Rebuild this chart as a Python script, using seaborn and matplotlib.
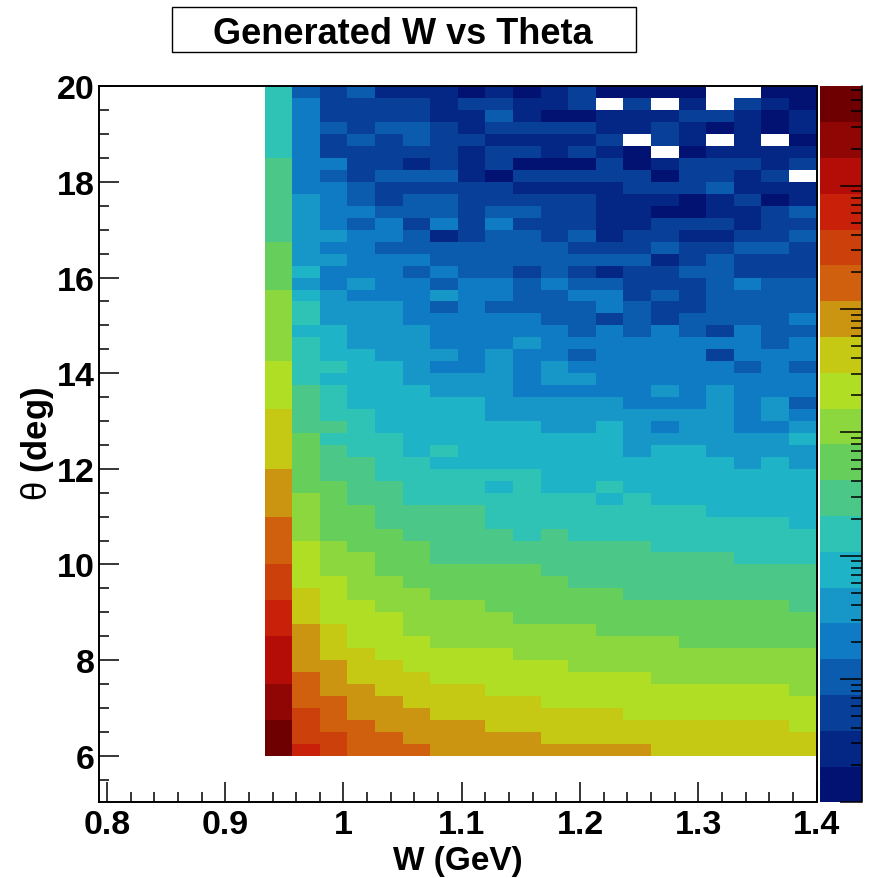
import numpy as np
import pandas as pd
import matplotlib
matplotlib.use("Agg")
import matplotlib.pyplot as plt
import seaborn as sns
from matplotlib.colors import LogNorm, ListedColormap
from matplotlib.patches import Rectangle
from matplotlib.ticker import LogLocator, NullFormatter

# ---------------- data ----------------
# histogram binning
w_bin_width = 0.7 / 30          # GeV
w_first_edge = 0.7 + 10 * w_bin_width
n_w_bins = 20
theta_top_edge = 20.0           # deg
theta_bin_width = 0.25
n_theta_bins = 56

# z axis (log) and its 20 colour levels
z_min = 1.0
z_max = 6.4e5
n_levels = 20
level_codes = "0123456789abcdefghij"   # '.' = empty bin

# colour level of every bin, top row (theta 19.75-20) first, W increasing left->right
level_rows = [
    "7323111010120000..00",
    "742222122112.2.1.210",
    "74222211310011122101",
    "74323321222211210101",
    "7423232211112.21.1.0",
    "74222221221210.01111",
    "84422121200020122212",
    "8432333102222202212.",
    "84432222211112223111",
    "85432332222211101201",
    "85443332332211001123",
    "85434242422211222122",
    "85544312332312211223",
    "95443333333222322332",
    "95544433333333123222",
    "96444343323212233222",
    "95454434434332223433",
    "a6544454433442323333",
    "a7555434333343223333",
    "a7555444443323233334",
    "a6655544444343432433",
    "a7655544454444444434",
    "a7665554544344442444",
    "b7766544545444444343",
    "b7666555545544444444",
    "b8766655544444545444",
    "b8766666555554445453",
    "c8776666555555555454",
    "c8876666665565455445",
    "c9777666666665555556",
    "c9877676666665665555",
    "c9887766666666666565",
    "d9887777776666666666",
    "d9988777676676666666",
    "da988777777767666666",
    "da998888777777776666",
    "ea998888777777777776",
    "ea999888878777777777",
    "eba99988888888777777",
    "ebaa9988888888888777",
    "fbaa9999998888888888",
    "fbbaa999999888888888",
    "fcbaaa99999998888888",
    "gcbbaaaa999999999998",
    "gcbbbaaaa99999999999",
    "gdcbbaaaaaaa99999999",
    "hdcbbbaaaaaaaaa99999",
    "hdccbbbbbaaaaaaaaaaa",
    "hddccbbbbbbaaaaaaaaa",
    "hedcccbbbbbbbbaaaaaa",
    "ieddccccbbbbbbbbbbba",
    "ieeddcccccbbbbbbbbbb",
    "ifedddcccccccbbbbbbb",
    "jfeeddddcccccccccccb",
    "jffeedddddcccccccccc",
    "jgfeeeddddddddcccccc",
]

# axes
x_range = (0.7 + 4 * w_bin_width, 1.4)
y_range = (5.025, 20.0)
x_ticks = [0.8, 0.9, 1.0, 1.1, 1.2, 1.3, 1.4]
x_tick_labels = ["0.8", "0.9", "1", "1.1", "1.2", "1.3", "1.4"]
y_ticks = [6, 8, 10, 12, 14, 16, 18, 20]
y_tick_labels = ["6", "8", "10", "12", "14", "16", "18", "20"]
title_text = "Generated W vs Theta"
x_title = "W (GeV)"
y_title = r"$\mathrm{\theta}\ \mathbf{(deg)}$"

# ROOT kRainBow palette stops
rainbow_r = [0, 5, 15, 35, 102, 196, 208, 199, 110]
rainbow_g = [0, 48, 124, 192, 206, 226, 97, 16, 0]
rainbow_b = [99, 142, 198, 201, 90, 22, 13, 8, 2]

# ---------------- build table ----------------
assert len(level_rows) == n_theta_bins and all(len(r) == n_w_bins for r in level_rows)
log_step = np.log10(z_max / z_min) / n_levels
counts = np.full((n_theta_bins, n_w_bins), np.nan)
for i, row in enumerate(level_rows):
    for j, ch in enumerate(row):
        if ch != ".":
            k = level_codes.index(ch)
            counts[i, j] = z_min * 10 ** ((k + 0.5) * log_step)

w_centres = w_first_edge + (np.arange(n_w_bins) + 0.5) * w_bin_width
theta_centres = theta_top_edge - (np.arange(n_theta_bins) + 0.5) * theta_bin_width
df = pd.DataFrame(counts, index=np.round(theta_centres, 3), columns=np.round(w_centres, 4))

# palette: 20 contour colours picked from a 255 colour gradient as ROOT does
stops = np.linspace(0, 1, len(rainbow_r))
idx = np.floor((np.arange(n_levels) + 0.99) * 255 / n_levels)
t = idx / 254.0
cols = np.stack([np.interp(t, stops, rainbow_r),
                 np.interp(t, stops, rainbow_g),
                 np.interp(t, stops, rainbow_b)], axis=1) / 255.0
cmap = ListedColormap(cols)

# ---------------- plot ----------------
sns.set_style("white")
plt.rcParams["font.family"] = ["Liberation Sans", "DejaVu Sans"]
plt.rcParams["font.weight"] = "bold"
plt.rcParams["text.color"] = "black"
plt.rcParams["xtick.color"] = "black"
plt.rcParams["ytick.color"] = "black"
plt.rcParams["axes.axisbelow"] = False
plt.rcParams["mathtext.fontset"] = "custom"
plt.rcParams["mathtext.rm"] = "Liberation Sans:weight=normal"
plt.rcParams["mathtext.it"] = "Liberation Sans:italic:weight=normal"
plt.rcParams["mathtext.bf"] = "Liberation Sans:weight=bold"

W, H = 874, 879
fig = plt.figure(figsize=(W / 100, H / 100), dpi=100)
fig.patch.set_facecolor("white")
ax_l, ax_r, ax_t, ax_b = 99, 816.7, 87.3, 803.3
ax = fig.add_axes([ax_l / W, 1 - ax_b / H, (ax_r - ax_l) / W, (ax_b - ax_t) / H])
cax = fig.add_axes([820 / W, 1 - ax_b / H, (861.7 - 820) / W, (ax_b - ax_t) / H])

sns.heatmap(df, ax=ax, cbar_ax=cax, cmap=cmap, norm=LogNorm(vmin=z_min, vmax=z_max),
            xticklabels=False, yticklabels=False, linewidths=0)


def w_to_col(w):
    return (np.asarray(w) - w_first_edge) / w_bin_width


def th_to_row(th):
    return (theta_top_edge - np.asarray(th)) / theta_bin_width


ax.set_xlim(w_to_col(x_range[0]), w_to_col(x_range[1]))
ax.set_ylim(th_to_row(y_range[0]), th_to_row(y_range[1]))

ax.set_xticks(w_to_col(x_ticks))
ax.set_xticklabels(x_tick_labels)
x_minor = np.arange(0.80, 1.4001, 0.02)
ax.set_xticks(w_to_col(x_minor), minor=True)
ax.set_yticks(th_to_row(y_ticks))
ax.set_yticklabels(y_tick_labels, rotation=0)
y_minor = np.arange(5.5, 20.001, 0.5)
ax.set_yticks(th_to_row(y_minor), minor=True)

ax.tick_params(which="both", direction="in", top=False, right=False,
               bottom=True, left=True, color="black", width=1.1)
ax.tick_params(which="major", length=14.5)
ax.tick_params(which="minor", length=7.2)
ax.tick_params(axis="x", which="major", labelsize=24.5, pad=5, labelcolor="black")
ax.tick_params(axis="y", which="major", labelsize=24.5, pad=3, labelcolor="black")
for lab in ax.get_xticklabels() + ax.get_yticklabels():
    lab.set_fontweight("bold")

for s in ax.spines.values():
    s.set_visible(True)
    s.set_color("black")
    s.set_linewidth(1.4)

# colour bar (log axis, ticks only)
cb = ax.collections[0].colorbar
cb.outline.set_linewidth(0)
cb.ax.set_axisbelow(False)
cb.locator = LogLocator(base=10, numticks=20)
cb.formatter = NullFormatter()
cb.ax.yaxis.set_minor_locator(LogLocator(base=10, subs=np.arange(2, 10), numticks=20))
cb.ax.yaxis.set_minor_formatter(NullFormatter())
cb.ax.yaxis.set_ticks_position("right")
cb.ax.yaxis.set_zorder(5)
cb.ax.tick_params(which="both", direction="in", color="black", width=1.1,
                  right=True, left=False)
cb.ax.tick_params(which="major", length=15.5)
cb.ax.tick_params(which="minor", length=7.8)
cb.ax.axvline(1.0, color="black", lw=1.2, clip_on=False, zorder=6)

# axis titles
fig.text(((ax_l + ax_r) / 2) / W, 1 - 870 / H, x_title, ha="center", va="baseline",
         fontsize=24, fontweight="bold")
fig.text(38 / W, 1 - 444 / H, y_title, ha="center", va="center",
         rotation=90, fontsize=25, fontweight="normal")

# title box
fig.add_artist(Rectangle((172 / W, 1 - 53 / H), (636 - 172) / W, (53 - 8) / H,
                         transform=fig.transFigure, facecolor="white",
                         edgecolor="black", linewidth=1.0))
fig.text(403 / W, 1 - 43.5 / H, title_text, ha="center", va="baseline",
         fontsize=26, fontweight="bold")

fig.savefig("out.png", dpi=100, facecolor="white")
